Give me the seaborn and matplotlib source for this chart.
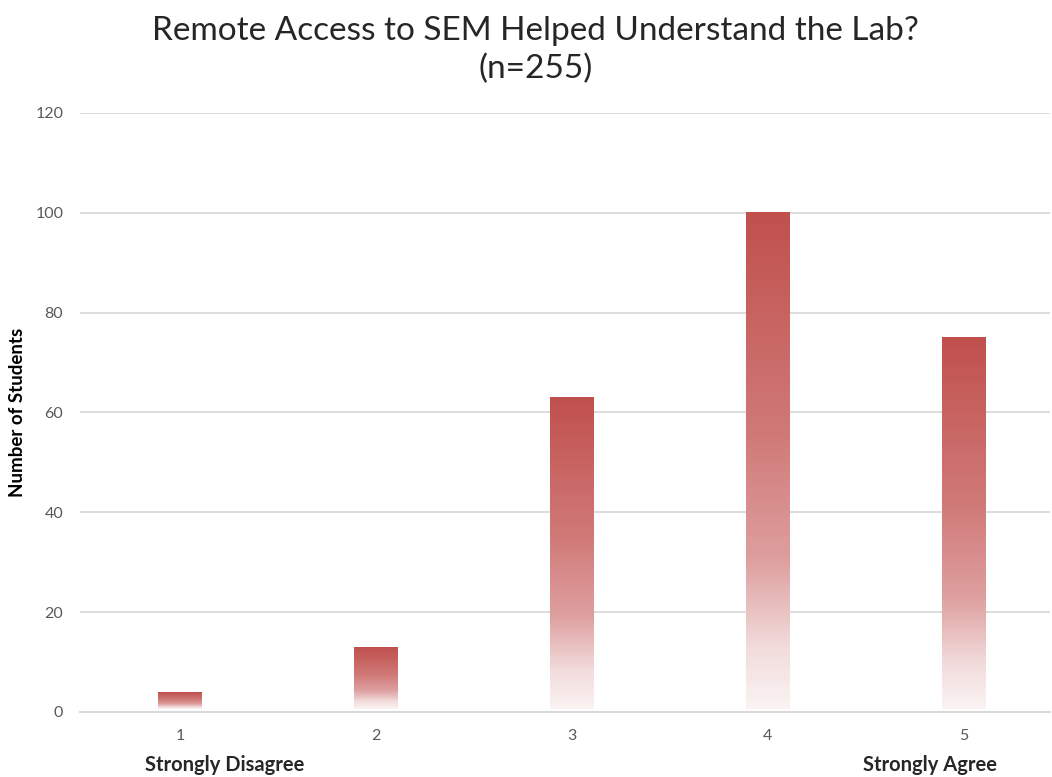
import numpy as np
import pandas as pd
import matplotlib
matplotlib.use("Agg")
import matplotlib.pyplot as plt
import seaborn as sns
from matplotlib.colors import LinearSegmentedColormap

ratings = [1, 2, 3, 4, 5]
counts = [4, 13, 63, 100, 75]
yticks = [0, 20, 40, 60, 80, 100, 120]
title = "Remote Access to SEM Helped Understand the Lab?\n(n=255)"
ylabel = "Number of Students"
end_labels = {1: "Strongly Disagree", 5: "Strongly Agree"}

sns.set_theme(style="white")
plt.rcParams['font.family'] = ['Lato', 'DejaVu Sans']

df = pd.DataFrame({"rating": ratings, "count": counts})

fig = plt.figure(figsize=(10.52, 7.77), dpi=100)
ax = fig.add_axes([0.076, 0.0837, 0.922, 0.771])

sns.barplot(data=df, x="rating", y="count", native_scale=True, width=0.22,
            color="#C0504D", ax=ax, zorder=3)

ax.set_xlim(0.49, 5.44)
ax.set_ylim(0, 120)
ax.set_yticks(yticks)
ax.set_xticks(ratings)
ax.set_xticklabels([str(r) for r in ratings])

# gradient fill: each bar dark red at top fading to white at bottom
cmap = LinearSegmentedColormap.from_list(
    "redfade", [(0.0, "#FBF3F3"), (0.12, "#F2DCDC"), (0.3, "#DE9F9F"),
                (0.55, "#D07A78"), (1.0, "#C0504D")])
grad = np.linspace(0, 1, 256).reshape(-1, 1)
for p in list(ax.patches):
    x0, y0 = p.get_x(), p.get_y()
    w, h = p.get_width(), p.get_height()
    ax.imshow(grad, cmap=cmap, origin="lower", aspect="auto",
              extent=(x0, x0 + w, y0 + 0.6, y0 + h), zorder=4,
              interpolation="bilinear")
    p.set_facecolor("none")
    p.set_edgecolor("none")
ax.set_xlim(0.49, 5.44)
ax.set_ylim(0, 120)

ax.grid(axis="y", color="#D9D9D9", linewidth=1.3, zorder=0)
ax.grid(axis="x", visible=False)
for s in ["top", "right", "left"]:
    ax.spines[s].set_visible(False)
ax.spines["bottom"].set_color("#D9D9D9")
ax.spines["bottom"].set_linewidth(1.5)
ax.tick_params(axis="both", length=0, labelsize=11.5, labelcolor="#595959")
ax.tick_params(axis="y", pad=12)
ax.tick_params(axis="x", pad=12)

ax.set_xlabel("")
ax.set_ylabel(ylabel, fontsize=13.5, fontweight="bold", color="black")
ax.yaxis.set_label_coords(-0.056, 0.5)

label_offsets = {1: 0.23, 5: -0.17}
for r, lab in end_labels.items():
    ax.text(r + label_offsets[r], -0.0885, lab, transform=ax.get_xaxis_transform(),
            ha="center", va="center", fontsize=14.5, fontweight="bold",
            color="#262626")

fig.text(0.509, 0.9356, title, ha="center", va="center", fontsize=24,
         color="#262626", linespacing=1.3)

fig.savefig("out.png", dpi=100, facecolor="white")
